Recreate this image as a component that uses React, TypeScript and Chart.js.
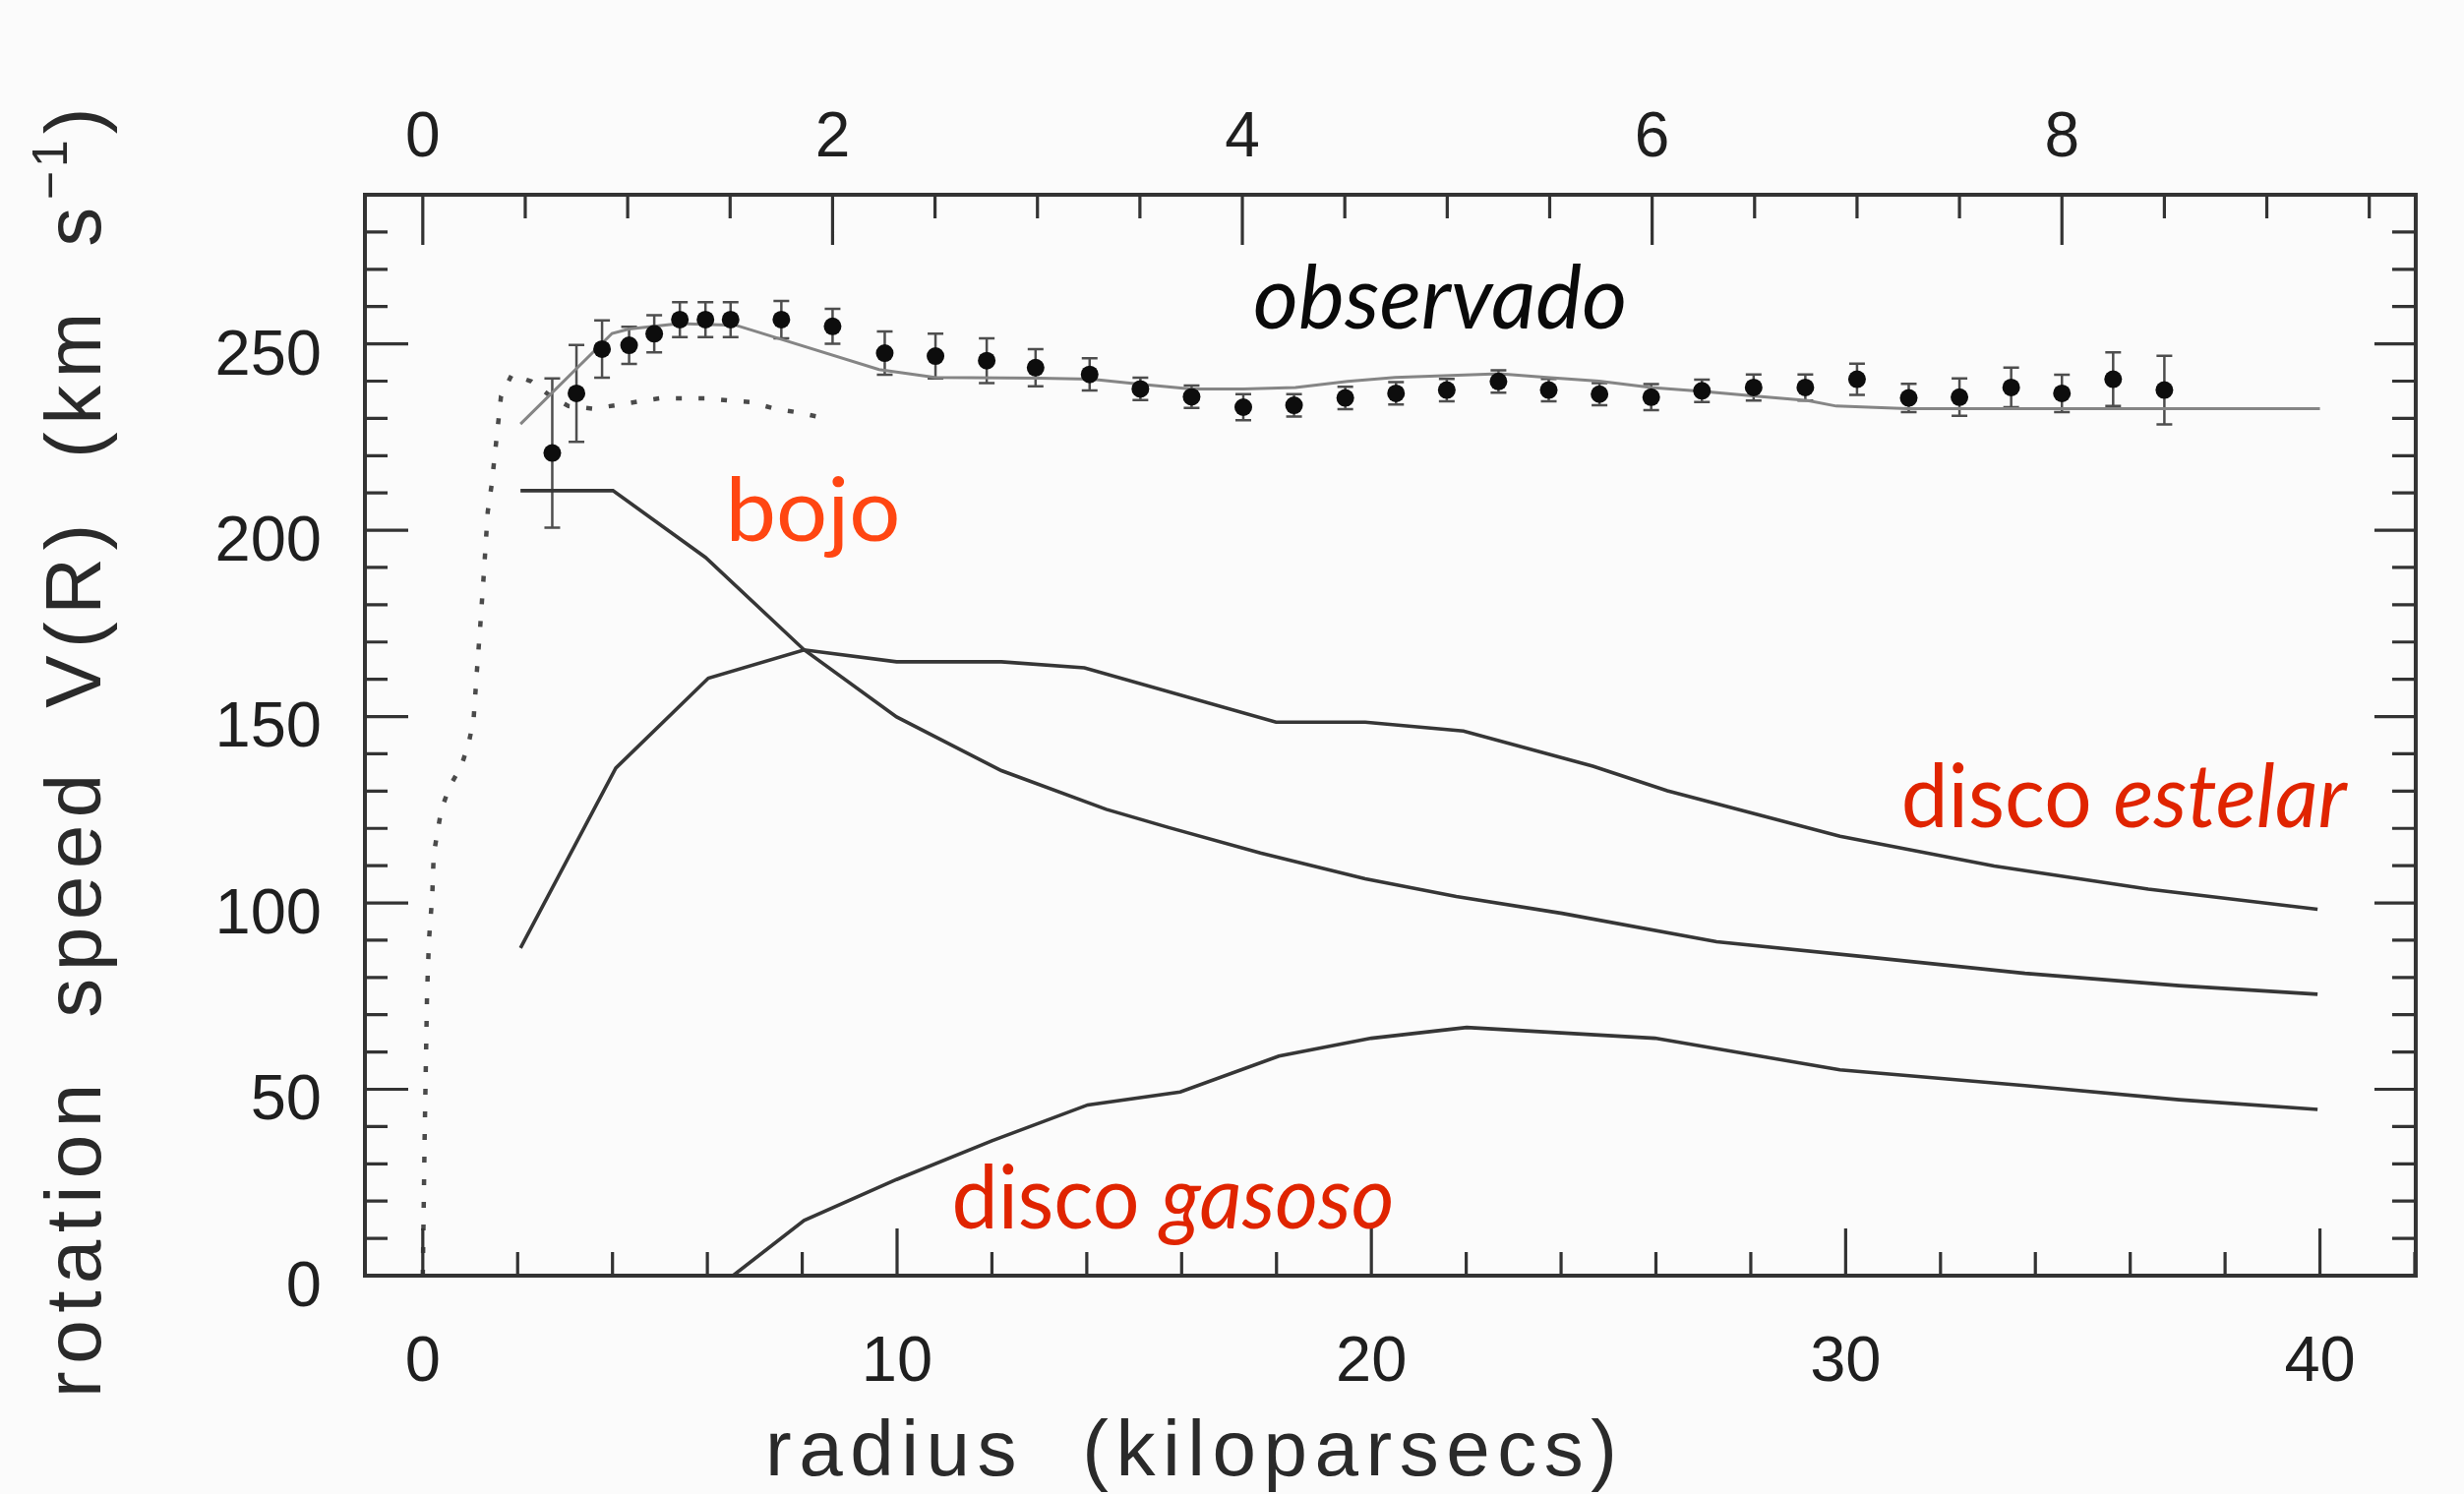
import React, { useEffect, useRef } from "react";
import { Chart, registerables } from "chart.js";

Chart.register(...registerables);

// ---------------- axis ranges ----------------
const X_MIN = -1.22;
const X_MAX = 42.02;
const Y_MIN = 0;
const Y_MAX = 290;
const KPC_PER_TOP_UNIT = 4.32;

// ---------------- tick labels ----------------
const bottomTickLabels = [0, 10, 20, 30, 40];
const topTickLabels = [0, 2, 4, 6, 8];
const leftTickLabels = [0, 50, 100, 150, 200, 250];

// ---------------- observed rotation speeds ----------------
const obsRadius = [2.73, 3.24, 3.78, 4.35, 4.88, 5.42, 5.96, 6.49, 7.56, 8.64, 9.74, 10.81, 11.89, 12.92, 14.06, 15.13, 16.21, 17.3, 18.37, 19.45, 20.52, 21.59, 22.68, 23.74, 24.81, 25.9, 26.97, 28.06, 29.15, 30.24, 31.33, 32.4, 33.49, 34.56, 35.64, 36.72];
const obsSpeed = [220.7, 236.7, 248.6, 249.6, 252.7, 256.5, 256.5, 256.5, 256.5, 254.7, 247.5, 246.7, 245.5, 243.6, 241.8, 237.9, 235.8, 233.0, 233.5, 235.5, 236.7, 237.6, 239.9, 237.6, 236.5, 235.7, 237.4, 238.3, 238.3, 240.5, 235.5, 235.7, 238.3, 236.7, 240.5, 237.6];
const obsError = [20, 13, 7.7, 5, 5, 4.7, 4.7, 4.7, 5, 4.7, 5.8, 6, 6, 5, 4.3, 3, 3, 3.5, 3, 3, 3, 3, 3, 3, 3, 3.5, 3, 3.5, 3.5, 4.2, 3.8, 5, 5.3, 5, 7.2, 9.2];

// ---------------- model fit to observations ----------------
const fitRadius = [2.06, 3.99, 4.35, 5.4, 6.6, 9.62, 10.8, 13.0, 14.1, 15.1, 16.2, 17.3, 18.4, 19.5, 20.5, 22.7, 23.7, 24.8, 25.9, 27.0, 28.1, 29.2, 29.8, 31.3, 40.0];
const fitSpeed = [228.5, 252.8, 254.0, 255.4, 255.0, 243.1, 241.0, 240.8, 240.5, 239.2, 237.9, 237.9, 238.3, 239.9, 241.0, 242.0, 241.0, 240.0, 238.3, 237.2, 236.0, 234.8, 233.3, 232.6, 232.6];

// ---------------- dotted inner curve ----------------
const dotRadius = [0.0, 0.04, 0.09, 0.13, 0.2, 0.23, 0.31, 0.39, 0.56, 0.82, 0.97, 1.07, 1.14, 1.21, 1.28, 1.37, 1.45, 1.55, 1.65, 1.88, 2.29, 2.69, 3.07, 3.58, 4.06, 4.53, 5.01, 5.96, 6.44, 6.91, 7.42, 7.86, 8.34];
const dotSpeed = [0, 38, 75.6, 90, 102, 113, 119, 125, 131, 137, 143, 149, 162, 174, 187, 205, 212, 224, 236, 241.8, 239.9, 236.0, 233.3, 232.6, 233.5, 234.5, 235.4, 235.4, 234.8, 234.4, 232.6, 231.7, 230.4];

// ---------------- bulge (bojo) ----------------
const bulgeRadius = [2.06, 4.01, 5.96, 8.04, 9.99, 12.2, 14.41, 15.71, 17.66, 19.87, 21.79, 24.02, 27.28, 30.53, 33.78, 37.03, 39.95];
const bulgeSpeed = [210.6, 210.6, 192.7, 167.9, 149.9, 135.5, 125.1, 120.3, 113.4, 106.5, 101.7, 97.2, 89.6, 85.4, 81.1, 77.8, 75.5];

// ---------------- stellar disc ----------------
const stellarRadius = [2.06, 4.07, 6.02, 8.04, 9.99, 12.2, 13.95, 17.99, 19.87, 21.94, 24.67, 26.24, 29.88, 33.13, 36.38, 39.95];
const stellarSpeed = [87.9, 136.2, 160.3, 167.9, 164.7, 164.7, 163.1, 148.5, 148.5, 146.1, 136.7, 130.1, 117.9, 109.9, 103.7, 98.3];

// ---------------- gas disc ----------------
const gasRadius = [6.54, 8.04, 9.99, 12.0, 14.02, 15.97, 18.05, 20.0, 22.01, 25.98, 29.88, 33.78, 37.03, 39.95];
const gasSpeed = [0, 14.8, 25.8, 36.2, 45.8, 49.3, 58.9, 63.7, 66.6, 63.7, 55.2, 51.0, 47.2, 44.6];

// ---------------- annotations ----------------
const annotationUpright = ["", "bojo", "disco", "disco"];
const annotationItalic = ["observado", "", "estelar", "gasoso"];
const annotationRadius = [17.51, 6.38, 31.17, 11.15];
const annotationSpeed = [254.2, 197.1, 120.3, 12.7];
const annotationColor = ["#0a0a0a", "#ff4612", "#e02400", "#e02400"];
const annotationWidth = [380, 178, 453, 450];

const pts = (xs: number[], ys: number[]) => xs.map((x, i) => ({ x, y: ys[i] }));

const AXIS_FONT = "'Liberation Sans', Arial, Helvetica, sans-serif";
const NOTE_FONT = "Lato, 'Open Sans', sans-serif";

const backgroundPlugin = {
  id: "bg",
  beforeDraw(chart: any) {
    const { ctx, width, height } = chart;
    ctx.save();
    ctx.fillStyle = "#fbfbfb";
    ctx.fillRect(0, 0, width, height);
    ctx.restore();
  },
};

const errorBarPlugin = {
  id: "errorBars",
  beforeDatasetsDraw(chart: any) {
    const { ctx, scales } = chart;
    const xs = scales.x;
    const ys = scales.y;
    ctx.save();
    ctx.strokeStyle = "#4e4e4e";
    ctx.lineWidth = 2.5;
    for (let i = 0; i < obsRadius.length; i++) {
      const px = xs.getPixelForValue(obsRadius[i]);
      const top = ys.getPixelForValue(obsSpeed[i] + obsError[i]);
      const bot = ys.getPixelForValue(obsSpeed[i] - obsError[i]);
      ctx.beginPath();
      ctx.moveTo(px, top);
      ctx.lineTo(px, bot);
      ctx.moveTo(px - 8, top);
      ctx.lineTo(px + 8, top);
      ctx.moveTo(px - 8, bot);
      ctx.lineTo(px + 8, bot);
      ctx.stroke();
    }
    ctx.restore();
  },
};

const frameTicksPlugin = {
  id: "frameTicks",
  afterDatasetsDraw(chart: any) {
    const { ctx, chartArea: a, scales } = chart;
    ctx.save();
    ctx.strokeStyle = "#333333";
    ctx.lineWidth = 3.2;
    ctx.beginPath();
    scales.x.ticks.forEach((t: any) => {
      const px = scales.x.getPixelForValue(t.value);
      const len = bottomTickLabels.includes(t.value) ? 48 : 24;
      ctx.moveTo(px, a.bottom);
      ctx.lineTo(px, a.bottom - len);
    });
    scales.xTop.ticks.forEach((t: any) => {
      const px = scales.xTop.getPixelForValue(t.value);
      const len = topTickLabels.includes(t.value) ? 51 : 24;
      ctx.moveTo(px, a.top);
      ctx.lineTo(px, a.top + len);
    });
    scales.y.ticks.forEach((t: any) => {
      const py = scales.y.getPixelForValue(t.value);
      const major = leftTickLabels.includes(t.value);
      ctx.moveTo(a.left, py);
      ctx.lineTo(a.left + (major ? 44 : 23), py);
      ctx.moveTo(a.right, py);
      ctx.lineTo(a.right - (major ? 42 : 24), py);
    });
    ctx.stroke();
    ctx.lineWidth = 4;
    ctx.strokeRect(a.left, a.top, a.right - a.left, a.bottom - a.top);
    ctx.restore();
  },
};

function drawSpaced(ctx: CanvasRenderingContext2D, text: string, x: number, spacing: number) {
  let cx = x;
  for (const ch of text) {
    ctx.fillText(ch, cx, 0);
    cx += ctx.measureText(ch).width + spacing;
  }
  return cx;
}

const titlesPlugin = {
  id: "titles",
  afterDraw(chart: any) {
    const { ctx, scales } = chart;
    ctx.save();
    ctx.fillStyle = "#2a2a2a";
    ctx.textBaseline = "alphabetic";
    ctx.textAlign = "left";
    // y axis title (rotated)
    ctx.save();
    ctx.translate(102, 1421);
    ctx.rotate(-Math.PI / 2);
    ctx.font = `80px ${AXIS_FONT}`;
    let cx = drawSpaced(ctx, "rotation  speed  V(R)  (km  s", 0, 7.5);
    ctx.save();
    ctx.font = `50px ${AXIS_FONT}`;
    ctx.translate(0, -34);
    cx = drawSpaced(ctx, "\u22121", cx, 4);
    ctx.restore();
    ctx.font = `80px ${AXIS_FONT}`;
    drawSpaced(ctx, ")", cx + 2, 0);
    ctx.restore();
    // x axis title
    ctx.save();
    ctx.translate(778, 1500);
    ctx.font = `80px ${AXIS_FONT}`;
    drawSpaced(ctx, "radius  (kiloparsecs)", 0, 7.5);
    ctx.restore();

    // annotations
    const size = 90;
    for (let i = 0; i < annotationUpright.length; i++) {
      const px = scales.x.getPixelForValue(annotationRadius[i]);
      const py = scales.y.getPixelForValue(annotationSpeed[i]);
      const up = annotationUpright[i];
      const it = annotationItalic[i];
      ctx.font = `${size}px ${NOTE_FONT}`;
      const w1 = up ? ctx.measureText(up).width : 0;
      const gap = up && it ? ctx.measureText(" ").width : 0;
      ctx.font = `italic ${size}px ${NOTE_FONT}`;
      const w2 = it ? ctx.measureText(it).width : 0;
      const sx = annotationWidth[i] / (w1 + gap + w2);
      ctx.save();
      ctx.translate(px, py);
      ctx.scale(sx, 1);
      ctx.fillStyle = annotationColor[i];
      if (up) {
        ctx.font = `${size}px ${NOTE_FONT}`;
        ctx.fillText(up, 0, 0);
      }
      if (it) {
        ctx.font = `italic ${size}px ${NOTE_FONT}`;
        ctx.fillText(it, w1 + gap, 0);
      }
      ctx.restore();
    }
    ctx.restore();
  },
};

export default function App() {
  const canvasRef = useRef<HTMLCanvasElement | null>(null);

  useEffect(() => {
    document.body.style.margin = "0";
    const canvas = canvasRef.current;
    if (!canvas) return;

    const curve = (label: string, xs: number[], ys: number[], color: string, width: number, dash: number[] = []) => ({
      label,
      data: pts(xs, ys),
      showLine: true,
      borderColor: color,
      borderWidth: width,
      borderDash: dash,
      pointRadius: 0,
      fill: false,
      tension: 0,
    });

    const chart = new Chart(canvas, {
      type: "scatter",
      data: {
        datasets: [
          {
            label: "observado",
            data: pts(obsRadius, obsSpeed),
            showLine: false,
            pointRadius: 9,
            pointBackgroundColor: "#0d0d0d",
            pointBorderColor: "#0d0d0d",
            pointBorderWidth: 0,
          } as any,
          curve("ajuste", fitRadius, fitSpeed, "#858585", 3),
          curve("interior", dotRadius, dotSpeed, "#4a4a4a", 4.5, [6, 17]),
          curve("bojo", bulgeRadius, bulgeSpeed, "#363636", 3.6),
          curve("disco estelar", stellarRadius, stellarSpeed, "#363636", 3.6),
          curve("disco gasoso", gasRadius, gasSpeed, "#363636", 3.6),
        ],
      },
      options: {
        animation: false,
        responsive: false,
        maintainAspectRatio: false,
        devicePixelRatio: 1,
        events: [],
        layout: { padding: { left: 0, right: 13, top: 0, bottom: 0 } },
        plugins: {
          legend: { display: false },
          tooltip: { enabled: false },
        },
        scales: {
          x: {
            type: "linear",
            position: "bottom",
            min: X_MIN,
            max: X_MAX,
            grid: { display: false, drawTicks: false },
            border: { display: false },
            ticks: {
              stepSize: 2,
              includeBounds: false,
              autoSkip: false,
              maxRotation: 0,
              padding: 50,
              color: "#1f1f1f",
              font: { family: AXIS_FONT, size: 65 },
              callback: (v: any) => (bottomTickLabels.includes(Number(v)) ? String(v) : ""),
            },
            afterFit: (s: any) => {
              s.height = 222;
            },
          },
          xTop: {
            type: "linear",
            position: "top",
            min: X_MIN / KPC_PER_TOP_UNIT,
            max: X_MAX / KPC_PER_TOP_UNIT,
            grid: { display: false, drawTicks: false },
            border: { display: false },
            ticks: {
              stepSize: 0.5,
              includeBounds: false,
              autoSkip: false,
              maxRotation: 0,
              padding: 18,
              color: "#1f1f1f",
              font: { family: AXIS_FONT, size: 64 },
              callback: (v: any) => (topTickLabels.includes(Number(v)) ? String(v) : ""),
            },
            afterFit: (s: any) => {
              s.height = 198;
            },
          },
          y: {
            type: "linear",
            position: "left",
            min: Y_MIN,
            max: Y_MAX,
            grid: { display: false, drawTicks: false },
            border: { display: false },
            ticks: {
              stepSize: 10,
              includeBounds: false,
              autoSkip: false,
              padding: 44,
              labelOffset: 13,
              color: "#1f1f1f",
              font: { family: AXIS_FONT, size: 65 },
              callback: (v: any) => (leftTickLabels.includes(Number(v)) ? String(v) : ""),
            },
            afterFit: (s: any) => {
              s.width = 371;
            },
          },
        },
      } as any,
      plugins: [backgroundPlugin, errorBarPlugin, frameTicksPlugin, titlesPlugin],
    });

    return () => chart.destroy();
  }, []);

  return (
    <canvas
      ref={canvasRef}
      width={2505}
      height={1519}
      style={{ position: "absolute", left: 0, top: 0, width: 2505, height: 1519, display: "block" }}
    />
  );
}
